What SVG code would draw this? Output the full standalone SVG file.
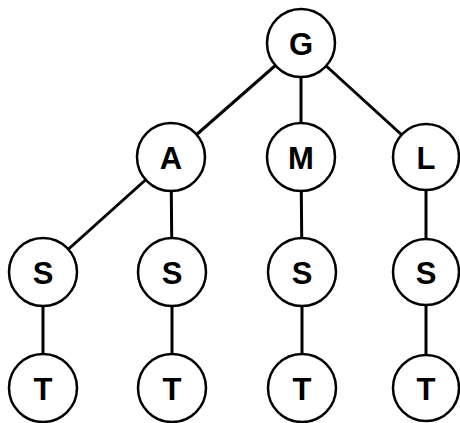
<svg xmlns="http://www.w3.org/2000/svg" width="460" height="423" viewBox="0 0 460 423">
<style>
.edge{stroke:#000;stroke-width:3;fill:none}
.node circle{fill:#fff;stroke:#000;stroke-width:2.5}
.node text{font-family:"Liberation Sans",Arial,sans-serif;font-weight:bold;font-size:31px;text-anchor:middle;dominant-baseline:central;fill:#000}
</style>
<rect width="460" height="423" fill="#fff"/>
<g id="connectors">
<line class="edge" x1="301" y1="43" x2="171" y2="157"/>
<line class="edge" x1="301" y1="43" x2="301" y2="157"/>
<line class="edge" x1="301" y1="43" x2="426" y2="157"/>
<line class="edge" x1="171" y1="157" x2="43" y2="272"/>
<line class="edge" x1="171" y1="157" x2="172" y2="272"/>
<line class="edge" x1="301" y1="157" x2="302" y2="272"/>
<line class="edge" x1="426" y1="157" x2="426" y2="272"/>
<line class="edge" x1="43" y1="272" x2="43" y2="388"/>
<line class="edge" x1="172" y1="272" x2="172" y2="388"/>
<line class="edge" x1="302" y1="272" x2="302" y2="388"/>
<line class="edge" x1="426" y1="272" x2="426" y2="388"/>
</g>
<g id="G" class="node"><circle cx="301" cy="43" r="34"/><text x="301" y="44">G</text></g>
<g id="A" class="node"><circle cx="171" cy="157" r="34"/><text x="171" y="158">A</text></g>
<g id="M" class="node"><circle cx="301" cy="157" r="34"/><text x="301" y="158">M</text></g>
<g id="L" class="node"><circle cx="426" cy="157" r="33"/><text x="426" y="158">L</text></g>
<g id="S1" class="node"><circle cx="43" cy="272" r="34"/><text x="43" y="273">S</text></g>
<g id="S2" class="node"><circle cx="172" cy="272" r="34"/><text x="172" y="273">S</text></g>
<g id="S3" class="node"><circle cx="302" cy="272" r="34"/><text x="302" y="273">S</text></g>
<g id="S4" class="node"><circle cx="426" cy="272" r="33"/><text x="426" y="273">S</text></g>
<g id="T1" class="node"><circle cx="43" cy="388" r="34"/><text x="43" y="389">T</text></g>
<g id="T2" class="node"><circle cx="172" cy="388" r="34"/><text x="172" y="389">T</text></g>
<g id="T3" class="node"><circle cx="302" cy="388" r="34"/><text x="302" y="389">T</text></g>
<g id="T4" class="node"><circle cx="426" cy="388" r="33"/><text x="426" y="389">T</text></g>
</svg>
